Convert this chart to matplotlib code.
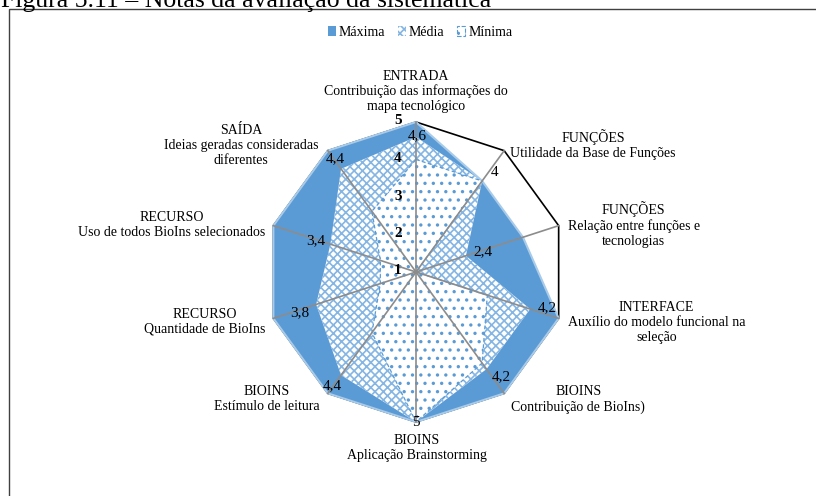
import numpy as np
import matplotlib
matplotlib.use("Agg")
import matplotlib.pyplot as plt
from matplotlib.patches import Patch, Rectangle

plt.rcParams['font.family'] = ['Liberation Serif', 'DejaVu Serif']

categories = [
    "ENTRADA\nContribuição das informações do\nmapa tecnológico",
    "FUNÇÕES\nUtilidade da Base de Funções",
    "FUNÇÕES\nRelação entre funções e\ntecnologias",
    "INTERFACE\nAuxílio do modelo funcional na\nseleção",
    "BIOINS\nContribuição de BioIns)",
    "BIOINS\nAplicação Brainstorming",
    "BIOINS\nEstímulo de leitura",
    "RECURSO\nQuantidade de BioIns",
    "RECURSO\nUso de todos BioIns selecionados",
    "SAÍDA\nIdeias geradas consideradas\ndiferentes",
]
maxima = [5, 4, 4, 5, 5, 5, 5, 5, 5, 5]
media = [4.6, 4, 2.4, 4.2, 4.2, 5, 4.4, 3.8, 3.4, 4.4]
minima = [4, 4, 1, 3, 4, 5, 3, 2, 2, 3]
media_labels = ["4,6", "4", "2,4", "4,2", "4,2", "5", "4,4", "3,8", "3,4", "4,4"]
r_ticks = [1, 2, 3, 4, 5]
series_names = ["Máxima", "Média", "Mínima"]
title = "Figura 5.11 – Notas da avaliação da sistemática"

W, H = 816, 496
fig = plt.figure(figsize=(W / 100, H / 100), dpi=100)

# frame around the chart
fig.add_artist(Rectangle((9 / W, -0.2), 2.0, 1.2 - 9 / H, transform=fig.transFigure,
                         fill=False, edgecolor='#404040', linewidth=1.0))
fig.text(1 / W, 1 - 7 / H, title, fontsize=18.5, va='baseline', ha='left')

cx, cy, R = 416, 272, 150
ax = fig.add_axes([(cx - R) / W, (H - cy - R) / H, 2 * R / W, 2 * R / H], projection='polar')
ax.set_theta_zero_location('N')
ax.set_theta_direction(-1)
ax.set_ylim(1, 5)
ax.grid(False)
ax.set_xticks([])
ax.set_yticks([])
ax.spines['polar'].set_visible(False)
ax.patch.set_visible(False)

n = len(categories)
theta = np.arange(n) * 2 * np.pi / n
tc = np.append(theta, theta[0])

def closed(v):
    return np.append(v, v[0])

blue = '#5B9BD5'
hatch_blue = '#85B5E2'
plt.rcParams['hatch.linewidth'] = 1.2

# outer ring (black)
ax.plot(tc, closed([5] * n), color='black', lw=1.2, zorder=1, clip_on=False)

ax.fill(tc, closed(maxima), facecolor=blue, edgecolor='#A9CBEA', lw=1.5, zorder=2, clip_on=False)
ax.fill(tc, closed(media), facecolor='white', edgecolor=hatch_blue, hatch='xxxx', lw=0, zorder=3)
ax.fill(tc, closed(minima), facecolor='white', edgecolor=blue, hatch='..', lw=0, zorder=4)
ax.plot(tc, closed(minima), color=blue, lw=0.9, ls=(0, (3, 2)), zorder=4.5)

# spokes
for t in theta:
    ax.plot([t, t], [1, 5], color='#8C8C8C', lw=1.2, zorder=5, clip_on=False)

# radial tick labels
for v in r_ticks:
    ax.annotate(str(v), xy=(0, v), xytext=(-18, 1), textcoords='offset pixels',
                ha='center', va='center', fontsize=11, fontweight='bold', zorder=6,
                annotation_clip=False)

# data labels of Média
lab_off = [(1, 1), (12, 8), (17, 4), (17, 1), (15, -8), (0, -1), (-9, -11), (-16, -8), (-15, 4), (-6, 10)]
for t, v, s, o in zip(theta, media, media_labels, lab_off):
    ax.annotate(s, xy=(t, v), xytext=o, textcoords='offset pixels', ha='center', va='center',
                fontsize=11, zorder=7, annotation_clip=False)

# category labels
cat_off = [(0, 30.5), (89, 6), (75, 1), (98, -4), (74, -6), (1, -26.5), (-61, -6), (-69, -3.5), (-102, 1), (-87, 5.5)]
for t, c, o in zip(theta, categories, cat_off):
    ax.annotate(c, xy=(t, 5), xytext=o, textcoords='offset pixels', ha='center', va='center',
                fontsize=10, linespacing=1.2, zorder=7, annotation_clip=False)

handles = [Patch(facecolor=blue, edgecolor='none'),
           Patch(facecolor='white', edgecolor=hatch_blue, hatch='xxxx', lw=0),
           Patch(facecolor='white', edgecolor=blue, hatch='..', lw=0.8, ls='--')]
fig.legend(handles, series_names, loc='center', bbox_to_anchor=(420 / W, 1 - 32 / H), ncol=3,
           frameon=False, fontsize=10, handlelength=0.6, handleheight=0.7, handletextpad=0.2,
           columnspacing=0.9, borderaxespad=0)

fig.savefig('out.png', dpi=100)
